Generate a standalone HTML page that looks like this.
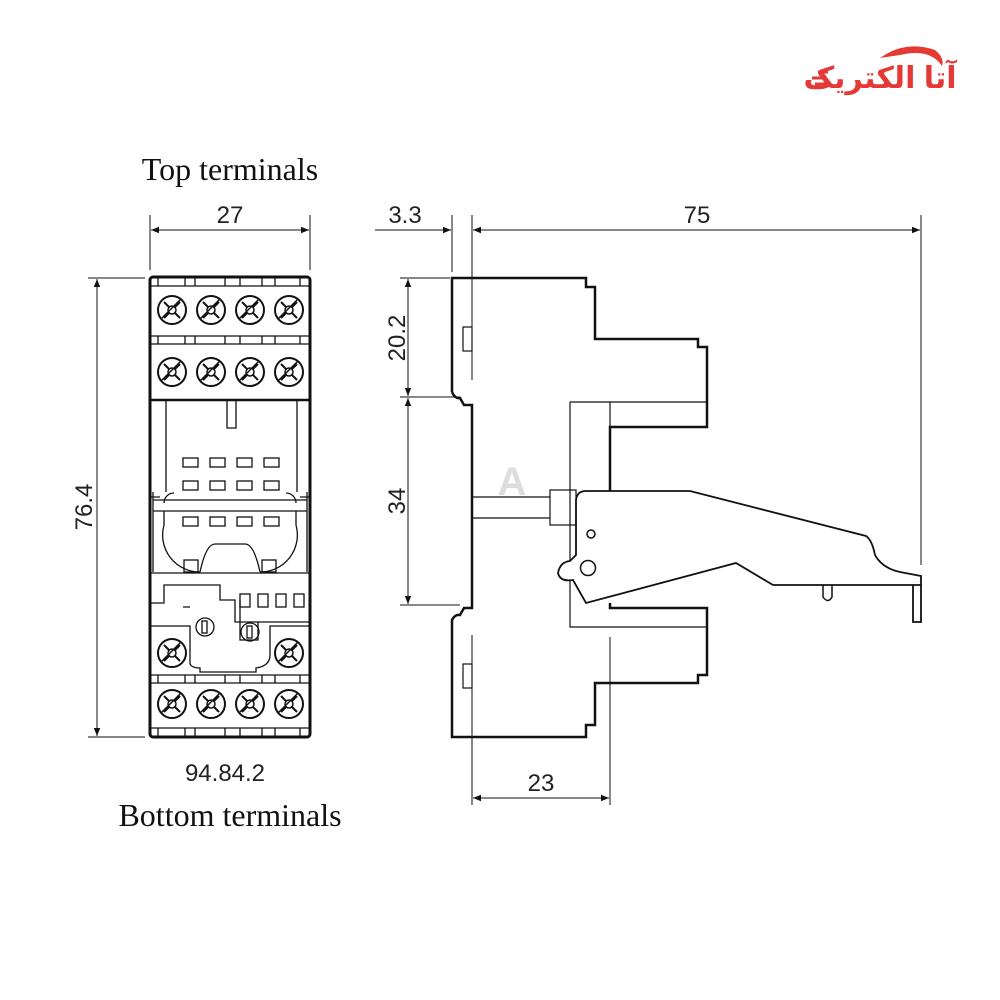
<!DOCTYPE html>
<html><head><meta charset="utf-8"><style>
html,body{margin:0;padding:0;background:#fff;}
svg{display:block}
.t{font-family:"Liberation Sans",sans-serif;font-size:24px;fill:#222}
.s{font-family:"Liberation Serif",serif;font-size:32px;fill:#111}
</style></head><body>
<svg width="1000" height="1000" viewBox="0 0 1000 1000" xmlns="http://www.w3.org/2000/svg">
<defs>
<marker id="a" viewBox="0 0 10 10" refX="10" refY="5" markerWidth="14" markerHeight="8" markerUnits="userSpaceOnUse" orient="auto-start-reverse"><path d="M0,1 L10,5 L0,9 z" fill="#111"/></marker>
<g id="sc"><circle r="14" fill="none" stroke="#111" stroke-width="2"/>
<path d="M-8,-8 L8,8 M-8,8 L8,-8" stroke="#111" stroke-width="2"/><circle r="4" fill="#fff" stroke="#111" stroke-width="1.5"/><path d="M-11,9 L9,-11" stroke="#111" stroke-width="1.5"/></g>
</defs>

<!-- logo -->
<path d="M880,58 Q905,40 935,50 Q945,58 942,66 Q930,48 900,55 Z" fill="#e53935"/>
<text x="880" y="88" text-anchor="middle" font-family="'Liberation Sans','DejaVu Sans',sans-serif" font-size="30" font-weight="bold" fill="#e53935">آتا الکتریک</text>
<path d="M812,78 h14 M815,84 h12 M818,72 h10" stroke="#e53935" stroke-width="3"/>

<text class="s" x="230" y="180" text-anchor="middle">Top terminals</text>
<text class="s" x="230" y="826" text-anchor="middle">Bottom terminals</text>
<text class="t" x="225" y="781" text-anchor="middle">94.84.2</text>
<text class="t" x="230" y="223" text-anchor="middle">27</text>
<text class="t" x="405" y="223" text-anchor="middle">3.3</text>
<text class="t" x="697" y="223" text-anchor="middle">75</text>
<text class="t" x="541" y="791" text-anchor="middle">23</text>
<text class="t" transform="translate(92,507) rotate(-90)" text-anchor="middle">76.4</text>
<text class="t" transform="translate(405,338) rotate(-90)" text-anchor="middle">20.2</text>
<text class="t" transform="translate(405,501) rotate(-90)" text-anchor="middle">34</text>

<g stroke="#111" stroke-width="1" fill="none">
<path d="M150,215 V270 M310,215 V270"/>
<path d="M151,230 H309" marker-start="url(#a)" marker-end="url(#a)"/>
<path d="M88,278 H145 M88,737 H145"/>
<path d="M97,279 V736" marker-start="url(#a)" marker-end="url(#a)"/>
<path d="M452,215 V272 M472,215 V380 M921,215 V565"/>
<path d="M375,230 H451" marker-end="url(#a)"/>
<path d="M473,230 H920" marker-start="url(#a)" marker-end="url(#a)"/>
<path d="M400,278 H450 M400,397 H460 M400,605 H460"/>
<path d="M408,279 V396" marker-start="url(#a)" marker-end="url(#a)"/>
<path d="M408,398 V604" marker-start="url(#a)" marker-end="url(#a)"/>
<path d="M472,635 V805 M610,637 V805"/>
<path d="M473,798 H609" marker-start="url(#a)" marker-end="url(#a)"/>
</g>

<!-- front view -->
<g stroke="#111" fill="none">
<rect x="150" y="277" width="160" height="460" rx="3" stroke-width="3"/>
<g stroke-width="1.3">
<path d="M150,286 H310 M150,336 H310 M150,344 H310 M150,675 H310 M150,683 H310 M150,728 H310"/>
<path d="M158,277v9 M185,277v9 M195,277v9 M225,277v9 M240,277v9 M262,277v9 M275,277v9 M300,277v9"/>
<path d="M158,336v8 M185,336v8 M195,336v8 M225,336v8 M240,336v8 M262,336v8 M275,336v8 M300,336v8"/>
<path d="M158,675v8 M185,675v8 M195,675v8 M225,675v8 M240,675v8 M262,675v8 M275,675v8 M300,675v8"/>
<path d="M158,728v9 M185,728v9 M195,728v9 M225,728v9 M240,728v9 M262,728v9 M275,728v9 M300,728v9"/>
</g>
<path d="M150,400 H310" stroke-width="2.5"/>
<path d="M166,400 V492 M297,400 V492 M227,400 V428 H236 V400" stroke-width="1.3"/>
<g stroke-width="1.3">
<rect x="183" y="458" width="15" height="9"/><rect x="210" y="458" width="15" height="9"/><rect x="237" y="458" width="15" height="9"/><rect x="264" y="458" width="15" height="9"/>
<rect x="183" y="481" width="15" height="9"/><rect x="210" y="481" width="15" height="9"/><rect x="237" y="481" width="15" height="9"/><rect x="264" y="481" width="15" height="9"/>
<rect x="183" y="517" width="15" height="9"/><rect x="210" y="517" width="15" height="9"/><rect x="237" y="517" width="15" height="9"/><rect x="264" y="517" width="15" height="9"/>
<path d="M153,500 H307 M153,511 H307"/>
<path d="M153,492 V572 M307,492 V572 M150,497 h10 M300,497 h10"/>
<path d="M164,503 A10,10 0 0 1 174,493 M296,503 A10,10 0 0 0 286,493"/>
<path d="M164,511 V525 A37,37 0 0 0 200,572 M296,511 V525 A37,37 0 0 1 260,572"/>
<path d="M200,572 Q206,544 215,544 H245 Q254,544 260,572"/>
<rect x="184" y="560" width="14" height="12"/><rect x="262" y="560" width="14" height="12"/>
<path d="M150,573 H310"/>
</g>
<g stroke-width="1.3">
<path d="M150,603 H164 V585 H220 V600 H235 V622 H310"/>
<path d="M150,626 H190 V664 Q192,668 200,668 V672 H256 V668 Q270,666 270,655 V626 H310"/>
<path d="M190,607 H183 M240,600 V640 H258 V622"/>
<rect x="240" y="594" width="10" height="13"/><rect x="258" y="594" width="10" height="13"/><rect x="276" y="594" width="10" height="13"/><rect x="294" y="594" width="10" height="13"/>
<circle cx="205" cy="627" r="9"/><rect x="202" y="621" width="5" height="12"/>
<circle cx="250" cy="632" r="9"/><rect x="247" y="626" width="5" height="12"/>
</g>
</g>
<use href="#sc" x="172" y="310"/><use href="#sc" x="211" y="310"/><use href="#sc" x="250" y="310"/><use href="#sc" x="289" y="310"/>
<use href="#sc" x="172" y="372"/><use href="#sc" x="211" y="372"/><use href="#sc" x="250" y="372"/><use href="#sc" x="289" y="372"/>
<use href="#sc" x="172" y="653"/><use href="#sc" x="289" y="653"/>
<use href="#sc" x="172" y="704"/><use href="#sc" x="211" y="704"/><use href="#sc" x="250" y="704"/><use href="#sc" x="289" y="704"/>

<!-- side view -->
<g stroke="#111" fill="none">
<path d="M452,392 V278 H586 V287 H595 V339 H698 V347 H707 V427 H610 V491" stroke-width="2.5"/>
<path d="M610,603 V608 H707 V675 H698 V683 H595 V725 H586 V733 H586 V737 H452 V620 Q455,614 460,615 L464,608 H472 V405 H464 L460,398 Q455,399 452,392" stroke-width="2.5"/>
<g stroke-width="1.2">
<rect x="463" y="327" width="9" height="24"/><rect x="463" y="664" width="9" height="24"/>
<path d="M570,402 V627 H707 M570,402 H707 M610,402 V491"/>
<path d="M472,497 H550 M472,518 H550"/>
<rect x="550" y="490" width="26" height="35"/>
</g>
<path d="M586,491 H690 L866,536 Q872,540 875,555 Q882,568 900,572 L921,576 V585 H913 V622 H921 V585 H773 L736,563 L586,603 L573,580 Q560,582 558,573 Q560,562 570,561 L576,555 V500 Q577,491 586,491 Z" stroke-width="1.8" fill="#fff"/>
<path d="M823,585 V597 Q828,604 832,597 V585" stroke-width="1.5"/>
<circle cx="591" cy="534" r="4" stroke-width="1.5"/>
<circle cx="588" cy="568" r="7.5" stroke-width="1.5"/>
</g>
<text x="512" y="495" font-family="Liberation Sans,sans-serif" font-size="40" font-weight="bold" fill="#ddd" text-anchor="middle">A</text>
</svg>
</body></html>
